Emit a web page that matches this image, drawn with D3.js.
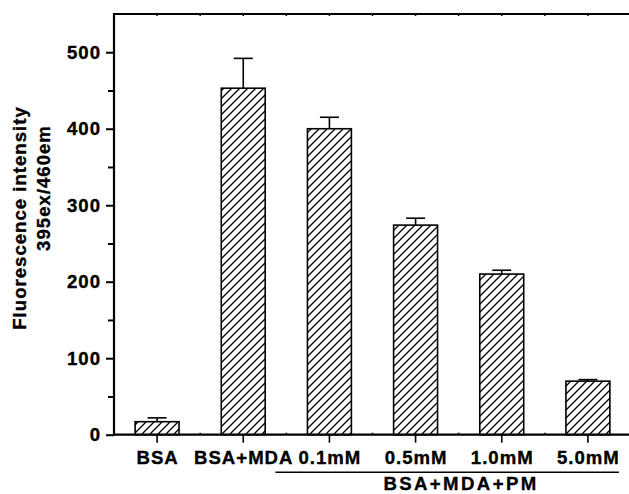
<!DOCTYPE html>
<html lang="en">

<head>
    <meta charset="UTF-8">
    <title>Fluorescence intensity</title>

    <script src="https://d3js.org/d3.v7.min.js"></script>

    <style>
        body {
            margin: 0;
            background: #fff;
        }

        text {
            font-family: "Liberation Sans", Arial, sans-serif;
            font-weight: bold;
            font-size: 18.6px;
            letter-spacing: 1px;
            fill: #000;
            stroke: #000;
            stroke-width: 0.35px;
        }

        .groupLabel {
            letter-spacing: 2.4px;
        }
    </style>

</head>

<body>
    <svg width="629" height="494"></svg>

    <script>
        const categories = ["BSA", "BSA+MDA", "0.1mM", "0.5mM", "1.0mM", "5.0mM"];
        const values = [17, 453, 400, 274, 210, 70];
        const errors = [5, 39, 15, 9, 5, 2];
        const yTicks = [0, 100, 200, 300, 400, 500];
        const yMinorTicks = [50, 150, 250, 350, 450];
        const groupLabel = "BSA+MDA+PM";
        const groupMembers = ["0.1mM", "0.5mM", "1.0mM", "5.0mM"];
        const yTitle = ["Fluorescence intensity", "395ex/460em"];

        let svg = d3.select("svg");

        const plotLeft = 114, plotRight = 629, plotTop = 14, plotBottom = 434.7;

        let x = d3.scaleBand()
            .domain(categories)
            .range([plotLeft, 631])
            .paddingInner(0.49)
            .paddingOuter(0.245);

        let y = d3.scaleLinear()
            .domain([0, 550])
            .range([plotBottom, plotTop]);

        // hatch pattern
        let defs = svg.append("defs");
        let pat = defs.append("pattern")
            .attr("id", "hatch")
            .attr("patternUnits", "userSpaceOnUse")
            .attr("width", 8)
            .attr("height", 8);
        pat.append("rect").attr("width", 8).attr("height", 8).attr("fill", "#fff");
        pat.append("path")
            .attr("d", "M-2,2 L2,-2 M0,8 L8,0 M6,10 L10,6")
            .attr("stroke", "#000")
            .attr("stroke-width", 1.3);

        let data = categories.map((c, i) => ({ cat: c, value: values[i], err: errors[i] }));

        // bars
        svg.append("g")
            .selectAll("rect")
            .data(data)
            .enter()
            .append("rect")
            .attr("x", d => x(d.cat))
            .attr("y", d => y(d.value))
            .attr("width", x.bandwidth())
            .attr("height", d => y(0) - y(d.value))
            .attr("fill", "url(#hatch)")
            .attr("stroke", "#000")
            .attr("stroke-width", 1.6);

        // error bars (upper only)
        let eb = svg.append("g").attr("stroke", "#000").attr("stroke-width", 1.6);
        data.forEach(function (d) {
            let cx = x(d.cat) + x.bandwidth() / 2;
            eb.append("line")
                .attr("x1", cx).attr("x2", cx)
                .attr("y1", y(d.value)).attr("y2", y(d.value + d.err));
            eb.append("line")
                .attr("x1", cx - 9.5).attr("x2", cx + 9.5)
                .attr("y1", y(d.value + d.err)).attr("y2", y(d.value + d.err));
        });

        // y axis
        let yAxis = svg.append("g")
            .attr("transform", "translate(" + plotLeft + ",0)")
            .call(d3.axisLeft(y).tickValues(yTicks).tickSize(8).tickPadding(5).tickFormat(d3.format("d")));
        yAxis.select(".domain").remove();
        yAxis.selectAll("line").attr("stroke", "#000").attr("stroke-width", 2);

        let yMinor = svg.append("g")
            .attr("transform", "translate(" + plotLeft + ",0)")
            .call(d3.axisLeft(y).tickValues(yMinorTicks).tickSize(6).tickFormat(""));
        yMinor.select(".domain").remove();
        yMinor.selectAll("line").attr("stroke", "#000").attr("stroke-width", 2);

        // x axis
        let xAxis = svg.append("g")
            .attr("transform", "translate(0," + plotBottom + ")")
            .call(d3.axisBottom(x).tickSize(8).tickPadding(8));
        xAxis.select(".domain").remove();
        xAxis.selectAll("line").attr("stroke", "#000").attr("stroke-width", 1.6);
        xAxis.selectAll("text").attr("dx", "0.5px");

        // frame lines: left, bottom, top
        let frame = svg.append("g").attr("stroke", "#000").attr("stroke-width", 2.2);
        frame.append("line").attr("x1", plotLeft).attr("x2", plotLeft).attr("y1", plotTop - 1).attr("y2", plotBottom + 1);
        frame.append("line").attr("x1", plotLeft - 1).attr("x2", plotRight).attr("y1", plotBottom).attr("y2", plotBottom);
        frame.append("line").attr("x1", plotLeft - 1).attr("x2", plotRight).attr("y1", plotTop).attr("y2", plotTop);

        // tiny ticks on the top line and between categories
        let half = x.step() / 2;
        let smallTicks = svg.append("g").attr("stroke", "#000").attr("stroke-width", 1.5);
        categories.forEach(function (c) {
            let cx = x(c) + x.bandwidth() / 2;
            [cx, cx + half].forEach(function (p) {
                if (p < plotRight) {
                    smallTicks.append("line").attr("x1", p).attr("x2", p)
                        .attr("y1", plotTop).attr("y2", plotTop + 2);
                }
            });
            if (cx + half < plotRight) {
                smallTicks.append("line").attr("x1", cx + half).attr("x2", cx + half)
                    .attr("y1", plotBottom).attr("y2", plotBottom - 2);
            }
        });

        // group bracket
        let g0 = x(groupMembers[0]);
        let g1 = x(groupMembers[groupMembers.length - 1]) + x.bandwidth();
        svg.append("line")
            .attr("x1", g0 - 32).attr("x2", g1 + 9)
            .attr("y1", 472.3).attr("y2", 472.3)
            .attr("stroke", "#000").attr("stroke-width", 1.6);
        svg.append("text")
            .attr("class", "groupLabel")
            .attr("x", 461)
            .attr("y", 490)
            .attr("text-anchor", "middle")
            .text(groupLabel);

        // y title
        svg.append("text")
            .attr("transform", "translate(26,218) rotate(-90)")
            .attr("text-anchor", "middle")
            .text(yTitle[0]);
        svg.append("text")
            .attr("transform", "translate(50,188) rotate(-90)")
            .attr("text-anchor", "middle")
            .text(yTitle[1]);
    </script>
</body>

</html>
